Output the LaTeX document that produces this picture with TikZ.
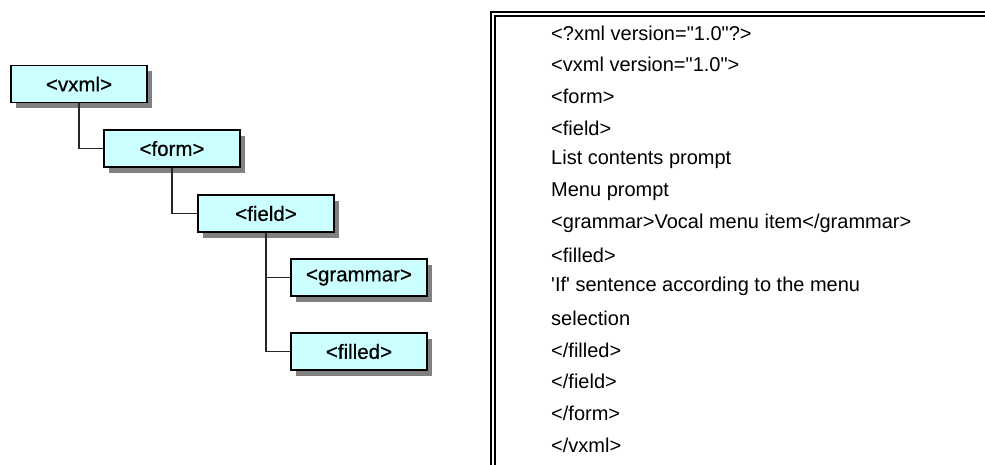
\documentclass[tikz,border=0pt]{standalone}
\usepackage{fontspec}
\setmainfont[Ligatures=TeXOff]{Liberation Sans}
\newfontfamily\tagfont[Ligatures=TeXOff, FakeBold=0.6]{Liberation Sans}
\usetikzlibrary{shadows}
\definecolor{tagcyan}{HTML}{CCFFFF}
\definecolor{shadowgray}{HTML}{808080}

\begin{document}
\begin{tikzpicture}[x=1pt, y=-1pt,
    tag/.style={draw, line width=1.2pt, fill=tagcyan, minimum width=136pt, minimum height=37pt, inner sep=0pt,
        font=\tagfont\fontsize{20.5}{24}\selectfont,
        drop shadow={shadow xshift=5pt, shadow yshift=-6pt, fill=shadowgray, opacity=1}},
    link/.style={line width=1.1pt, draw=black!85},
    codeline/.style={anchor=west, inner sep=0pt, font=\fontsize{20}{22}\selectfont}]
        \useasboundingbox (0,0) rectangle (985,465);

        % Define nodes
        \node (vxml) [tag] at (79,84) {<vxml>};
        \node (form) [tag] at (172,148.5) {<form>};
        \node (field) [tag] at (266,213.5) {<field>};
        \node (grammar) [tag] at (359,277.5) {<grammar>};
        \node (filled) [tag] at (359,351.5) {<filled>};

        % Draw links
        \draw[link] (vxml.south) |- (form.west);
        \draw[link] (form.south) |- (field.west);
        \draw[link] (field.south) |- (grammar.west);
        \draw[link] (field.south) |- (filled.west);

        % Source listing
        \draw[double, line width=2pt, double distance=2pt] (493,470) -- (493,14.5) -- (990,14.5);
        \foreach \txt [count=\i from 0] in {{<?xml version="1.0"?>}, {<vxml version="1.0">}, {<form>}, {<field>},
            {List contents prompt}, {Menu prompt}, {<grammar>Vocal menu item</grammar>}, {<filled>},
            {'If' sentence according to the menu}, {selection}, {</filled>}, {</field>}, {</form>}, {</vxml>}}
            \node (line\i) [codeline] at (551,33+31.7*\i) {\txt};
    \end{tikzpicture}
\end{document}
